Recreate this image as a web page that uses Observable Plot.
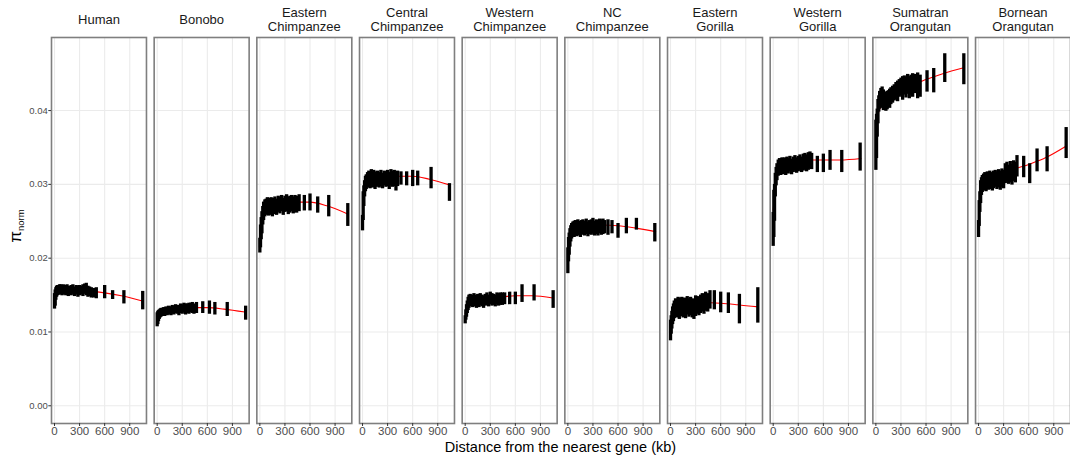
<!DOCTYPE html>
<html><head><meta charset="utf-8">
<script src="https://cdn.jsdelivr.net/npm/d3@7"></script>
<script src="https://cdn.jsdelivr.net/npm/@observablehq/plot@0.6"></script>
<style>html,body{margin:0;padding:0;background:#fff;} svg{display:block}</style>
</head><body><div id="chart"></div>
<script>
// ---- categories / labels ----
const species = ["Human","Bonobo","Eastern Chimpanzee","Central Chimpanzee","Western Chimpanzee","NC Chimpanzee","Eastern Gorilla","Western Gorilla","Sumatran Orangutan","Bornean Orangutan"];
const stripLabels = ["Human","Bonobo","Eastern\nChimpanzee","Central\nChimpanzee","Western\nChimpanzee","NC\nChimpanzee","Eastern\nGorilla","Western\nGorilla","Sumatran\nOrangutan","Bornean\nOrangutan"];
const xTicks = [0, 300, 600, 900];
const yTicks = [0, 0.01, 0.02, 0.03, 0.04];

// ---- distance bins (kb) shared by the dense part of every panel ----
const denseKb = [0,8,16,25,35,45,60,75,90,105,120,135,150,165,180,200,220,240,260,280,300,320,340,360,380,400,420];

// ---- per-species sparse bins and error-bar bounds (dense first, then sparse) ----
const humanExtraKb = [440,470,500,600,695,830,1055];
const humanLo = [0.0131,0.0135,0.0143,0.0147,0.0149,0.0150,0.0150,0.0151,0.0149,0.0152,0.0150,0.0149,0.0151,0.0148,0.0150,0.0149,0.0151,0.0148,0.0150,0.0147,0.0149,0.0150,0.0148,0.0151,0.0149,0.0147,0.0148, 0.0146,0.0146,0.0145,0.0145,0.0144,0.0138,0.0130];
const humanHi = [0.0152,0.0157,0.0160,0.0162,0.0163,0.0163,0.0164,0.0164,0.0163,0.0164,0.0163,0.0162,0.0164,0.0161,0.0162,0.0163,0.0164,0.0161,0.0163,0.0162,0.0163,0.0162,0.0164,0.0165,0.0166,0.0162,0.0161, 0.0160,0.0159,0.0160,0.0163,0.0156,0.0156,0.0155];

const bonoboExtraKb = [440,470,545,625,690,838,1058];
const bonoboLo = [0.0107,0.0110,0.0114,0.0117,0.0119,0.0120,0.0121,0.0122,0.0121,0.0123,0.0122,0.0124,0.0123,0.0122,0.0124,0.0123,0.0125,0.0124,0.0122,0.0125,0.0124,0.0126,0.0123,0.0125,0.0124,0.0126,0.0125, 0.0124,0.0125,0.0125,0.0124,0.0123,0.0121,0.0116];
const bonoboHi = [0.0126,0.0128,0.0129,0.0130,0.0131,0.0132,0.0132,0.0133,0.0133,0.0134,0.0133,0.0135,0.0134,0.0134,0.0136,0.0135,0.0137,0.0136,0.0136,0.0138,0.0137,0.0139,0.0138,0.0138,0.0139,0.0139,0.0140, 0.0138,0.0140,0.0141,0.0142,0.0140,0.0140,0.0135];

const eChimpExtraKb = [440,470,532,600,692,824,1052];
const eChimpLo = [0.0207,0.0214,0.0225,0.0233,0.0245,0.0251,0.0256,0.0258,0.0260,0.0257,0.0258,0.0260,0.0256,0.0259,0.0261,0.0258,0.0262,0.0260,0.0263,0.0258,0.0262,0.0263,0.0259,0.0261,0.0263,0.0260,0.0262, 0.0261,0.0263,0.0264,0.0264,0.0261,0.0256,0.0243];
const eChimpHi = [0.0227,0.0245,0.0255,0.0263,0.0270,0.0276,0.0279,0.0280,0.0282,0.0279,0.0281,0.0282,0.0279,0.0281,0.0283,0.0280,0.0284,0.0282,0.0285,0.0281,0.0284,0.0286,0.0283,0.0284,0.0285,0.0283,0.0285, 0.0284,0.0286,0.0285,0.0287,0.0283,0.0285,0.0274];

const cChimpExtraKb = [460,528,600,660,820,1040];
const cChimpLo = [0.0237,0.0251,0.0270,0.0283,0.0290,0.0293,0.0295,0.0297,0.0294,0.0298,0.0295,0.0297,0.0293,0.0296,0.0298,0.0295,0.0297,0.0294,0.0298,0.0296,0.0297,0.0293,0.0298,0.0296,0.0297,0.0291,0.0297, 0.0299,0.0298,0.0297,0.0298,0.0294,0.0277];
const cChimpHi = [0.0258,0.0290,0.0298,0.0305,0.0311,0.0313,0.0316,0.0318,0.0315,0.0320,0.0316,0.0319,0.0314,0.0317,0.0318,0.0316,0.0319,0.0315,0.0318,0.0317,0.0319,0.0316,0.0320,0.0318,0.0319,0.0317,0.0318, 0.0317,0.0317,0.0319,0.0318,0.0323,0.0301];

const wChimpExtraKb = [445,472,532,600,680,824,1052];
const wChimpLo = [0.0111,0.0116,0.0120,0.0125,0.0129,0.0132,0.0134,0.0135,0.0133,0.0136,0.0134,0.0132,0.0135,0.0133,0.0136,0.0134,0.0132,0.0135,0.0136,0.0134,0.0137,0.0135,0.0136,0.0134,0.0137,0.0135,0.0136, 0.0136,0.0137,0.0137,0.0137,0.0140,0.0142,0.0132];
const wChimpHi = [0.0122,0.0130,0.0137,0.0142,0.0147,0.0150,0.0151,0.0150,0.0149,0.0152,0.0150,0.0148,0.0151,0.0149,0.0152,0.0150,0.0149,0.0151,0.0153,0.0150,0.0154,0.0152,0.0151,0.0150,0.0153,0.0152,0.0153, 0.0153,0.0153,0.0154,0.0154,0.0164,0.0164,0.0156];

const ncChimpExtraKb = [440,480,528,600,700,820,1040];
const ncChimpLo = [0.0179,0.0195,0.0204,0.0215,0.0222,0.0226,0.0229,0.0228,0.0231,0.0229,0.0232,0.0230,0.0228,0.0231,0.0233,0.0230,0.0232,0.0229,0.0232,0.0231,0.0233,0.0230,0.0232,0.0230,0.0233,0.0231,0.0232, 0.0233,0.0231,0.0233,0.0227,0.0233,0.0238,0.0222];
const ncChimpHi = [0.0214,0.0228,0.0234,0.0240,0.0244,0.0247,0.0249,0.0250,0.0251,0.0249,0.0252,0.0250,0.0248,0.0251,0.0252,0.0250,0.0253,0.0249,0.0251,0.0252,0.0254,0.0250,0.0252,0.0251,0.0253,0.0252,0.0253, 0.0251,0.0252,0.0251,0.0247,0.0254,0.0254,0.0247];

const eGorillaExtraKb = [445,472,524,600,692,824,1044];
const eGorillaLo = [0.0088,0.0097,0.0104,0.0110,0.0114,0.0118,0.0121,0.0119,0.0122,0.0117,0.0121,0.0123,0.0119,0.0122,0.0118,0.0123,0.0120,0.0122,0.0119,0.0117,0.0121,0.0124,0.0122,0.0125,0.0127,0.0124,0.0128, 0.0127,0.0131,0.0130,0.0126,0.0125,0.0111,0.0112];
const eGorillaHi = [0.0116,0.0122,0.0128,0.0134,0.0138,0.0142,0.0145,0.0143,0.0147,0.0142,0.0146,0.0147,0.0144,0.0146,0.0143,0.0148,0.0145,0.0147,0.0145,0.0144,0.0149,0.0148,0.0147,0.0150,0.0152,0.0151,0.0154, 0.0152,0.0156,0.0156,0.0154,0.0153,0.0151,0.0160];

const wGorillaExtraKb = [440,460,528,600,680,820,1040];
const wGorillaLo = [0.0216,0.0228,0.0250,0.0283,0.0298,0.0305,0.0311,0.0314,0.0312,0.0316,0.0313,0.0315,0.0312,0.0316,0.0314,0.0317,0.0313,0.0316,0.0318,0.0315,0.0317,0.0319,0.0316,0.0318,0.0320,0.0317,0.0319, 0.0321,0.0320,0.0316,0.0316,0.0319,0.0316,0.0318];
const wGorillaHi = [0.0262,0.0292,0.0300,0.0315,0.0323,0.0328,0.0333,0.0335,0.0333,0.0336,0.0334,0.0336,0.0333,0.0337,0.0335,0.0338,0.0334,0.0337,0.0339,0.0336,0.0338,0.0340,0.0337,0.0341,0.0342,0.0340,0.0343, 0.0344,0.0342,0.0338,0.0341,0.0346,0.0346,0.0356];

const sumatranExtraKb = [440,470,500,530,612,692,824,1052];
const sumatranLo = [0.0319,0.0335,0.0364,0.0382,0.0398,0.0402,0.0405,0.0403,0.0400,0.0402,0.0399,0.0401,0.0404,0.0403,0.0408,0.0410,0.0413,0.0415,0.0412,0.0418,0.0420,0.0414,0.0421,0.0417,0.0422,0.0416,0.0421, 0.0418,0.0423,0.0416,0.0418,0.0425,0.0424,0.0438,0.0435];
const sumatranHi = [0.0387,0.0395,0.0402,0.0415,0.0420,0.0426,0.0430,0.0432,0.0428,0.0425,0.0423,0.0426,0.0427,0.0429,0.0431,0.0433,0.0435,0.0438,0.0440,0.0442,0.0444,0.0446,0.0447,0.0445,0.0449,0.0446,0.0448, 0.0450,0.0449,0.0451,0.0448,0.0454,0.0457,0.0477,0.0477];

const borneanExtraKb = [440,460,540,612,700,820,1048];
const borneanLo = [0.0228,0.0243,0.0262,0.0274,0.0285,0.0289,0.0291,0.0293,0.0290,0.0294,0.0292,0.0295,0.0293,0.0291,0.0294,0.0296,0.0293,0.0295,0.0292,0.0296,0.0294,0.0301,0.0303,0.0300,0.0302,0.0299,0.0304, 0.0302,0.0310,0.0309,0.0301,0.0317,0.0317,0.0335];
const borneanHi = [0.0251,0.0278,0.0290,0.0305,0.0309,0.0312,0.0314,0.0316,0.0313,0.0317,0.0315,0.0318,0.0316,0.0315,0.0318,0.0319,0.0317,0.0320,0.0318,0.0321,0.0319,0.0328,0.0330,0.0326,0.0331,0.0327,0.0332, 0.0330,0.0339,0.0338,0.0328,0.0348,0.0351,0.0377];

// ---- smooth (red) curve, read at these distances ----
const curveKb = [0,15,30,60,100,200,300,400,600,800,1050];
const humanFit     = [0.0148,0.0152,0.0155,0.0157,0.0157,0.0157,0.0157,0.0156,0.0153,0.0149,0.0142];
const bonoboFit    = [0.0117,0.0121,0.0124,0.0127,0.0129,0.0131,0.0132,0.0133,0.0133,0.0131,0.0127];
const eChimpFit    = [0.0235,0.0247,0.0256,0.0265,0.0269,0.0273,0.0275,0.0276,0.0276,0.0271,0.0260];
const cChimpFit    = [0.0268,0.0283,0.0294,0.0303,0.0306,0.0309,0.0310,0.0311,0.0311,0.0307,0.0299];
const wChimpFit    = [0.0125,0.0131,0.0136,0.0140,0.0142,0.0144,0.0146,0.0147,0.0149,0.0149,0.0146];
const ncChimpFit   = [0.0205,0.0218,0.0228,0.0236,0.0240,0.0243,0.0244,0.0245,0.0244,0.0241,0.0236];
const eGorillaFit  = [0.0108,0.0117,0.0124,0.0131,0.0134,0.0137,0.0139,0.0140,0.0139,0.0137,0.0134];
const wGorillaFit  = [0.0265,0.0285,0.0305,0.0320,0.0327,0.0331,0.0332,0.0333,0.0333,0.0333,0.0335];
const sumatranFit  = [0.0355,0.0380,0.0396,0.0405,0.0411,0.0420,0.0427,0.0433,0.0442,0.0450,0.0458];
const borneanFit   = [0.0255,0.0275,0.0288,0.0297,0.0302,0.0308,0.0313,0.0319,0.0327,0.0336,0.0352];

// ---- assemble tables for Plot ----
const extraKb = [humanExtraKb,bonoboExtraKb,eChimpExtraKb,cChimpExtraKb,wChimpExtraKb,ncChimpExtraKb,eGorillaExtraKb,wGorillaExtraKb,sumatranExtraKb,borneanExtraKb];
const loArr = [humanLo,bonoboLo,eChimpLo,cChimpLo,wChimpLo,ncChimpLo,eGorillaLo,wGorillaLo,sumatranLo,borneanLo];
const hiArr = [humanHi,bonoboHi,eChimpHi,cChimpHi,wChimpHi,ncChimpHi,eGorillaHi,wGorillaHi,sumatranHi,borneanHi];
const fitArr = [humanFit,bonoboFit,eChimpFit,cChimpFit,wChimpFit,ncChimpFit,eGorillaFit,wGorillaFit,sumatranFit,borneanFit];

const bars = [];
const fits = [];
species.forEach((sp, i) => {
  const kb = denseKb.concat(extraKb[i]);
  const n = Math.min(kb.length, loArr[i].length, hiArr[i].length);
  for (let j = 0; j < n; j++) bars.push({species: sp, kb: kb[j], lo: loArr[i][j], hi: hiArr[i][j]});
  curveKb.forEach((k, j) => fits.push({species: sp, kb: k, pi: fitArr[i][j]}));
});
const strips = species.map((sp, i) => ({species: sp, label: stripLabels[i]}));

const chart = Plot.plot({
  width: 1070,
  height: 459,
  marginLeft: 51,
  marginRight: 0,
  marginTop: 37,
  marginBottom: 36,
  style: {fontFamily: "'Liberation Sans', Arial, Helvetica, sans-serif", background: "#ffffff", overflow: "visible"},
  fx: {domain: species, paddingInner: 0.075, paddingOuter: 0, round: false, axis: null, label: null},
  x: {domain: [-36, 1100]},
  y: {domain: [-0.0024, 0.0499]},
  marks: [
    Plot.gridX({ticks: xTicks, stroke: "#ebebeb", strokeOpacity: 1, strokeWidth: 1.1}),
    Plot.gridY({ticks: yTicks, stroke: "#ebebeb", strokeOpacity: 1, strokeWidth: 1.1}),
    Plot.line(fits, {fx: "species", x: "kb", y: "pi", stroke: "#ff0000", strokeWidth: 1.1, curve: "monotone-x"}),
    Plot.ruleX(bars, {fx: "species", x: "kb", y1: "lo", y2: "hi", stroke: "#000000", strokeWidth: 3.3}),
    Plot.frame({stroke: "#7f7f7f", strokeWidth: 1.6}),
    Plot.axisY({ticks: yTicks, tickFormat: d3.format(".2f"), fontSize: 9.5, tickSize: 2.7, tickPadding: 1, label: null, stroke: "#333333", fill: "#4d4d4d"}),
    Plot.axisX({ticks: xTicks, tickFormat: d3.format("d"), fontSize: 11.5, tickSize: 3, tickPadding: 0.5, label: null, stroke: "#333333", fill: "#4d4d4d"}),
    Plot.text(strips, {fx: "species", text: "label", frameAnchor: "top", dy: -18, lineAnchor: "middle", lineHeight: 1.08, fontSize: 13, fill: "#1a1a1a"})
  ]
});

const svg = d3.select(chart);
// x axis title
svg.append("text")
  .attr("x", 560.5).attr("y", 452)
  .attr("text-anchor", "middle")
  .attr("font-size", 14.5)
  .attr("fill", "#000")
  .text("Distance from the nearest gene (kb)");
// y axis title: pi with subscript "norm"
const yt = svg.append("text")
  .attr("transform", "translate(21,226) rotate(-90)")
  .attr("text-anchor", "middle")
  .attr("fill", "#000");
yt.append("tspan").attr("font-size", 17).text("π");
yt.append("tspan").attr("font-size", 9.5).attr("dy", 3).text("norm");

document.getElementById("chart").appendChild(chart);
</script>
</body></html>
